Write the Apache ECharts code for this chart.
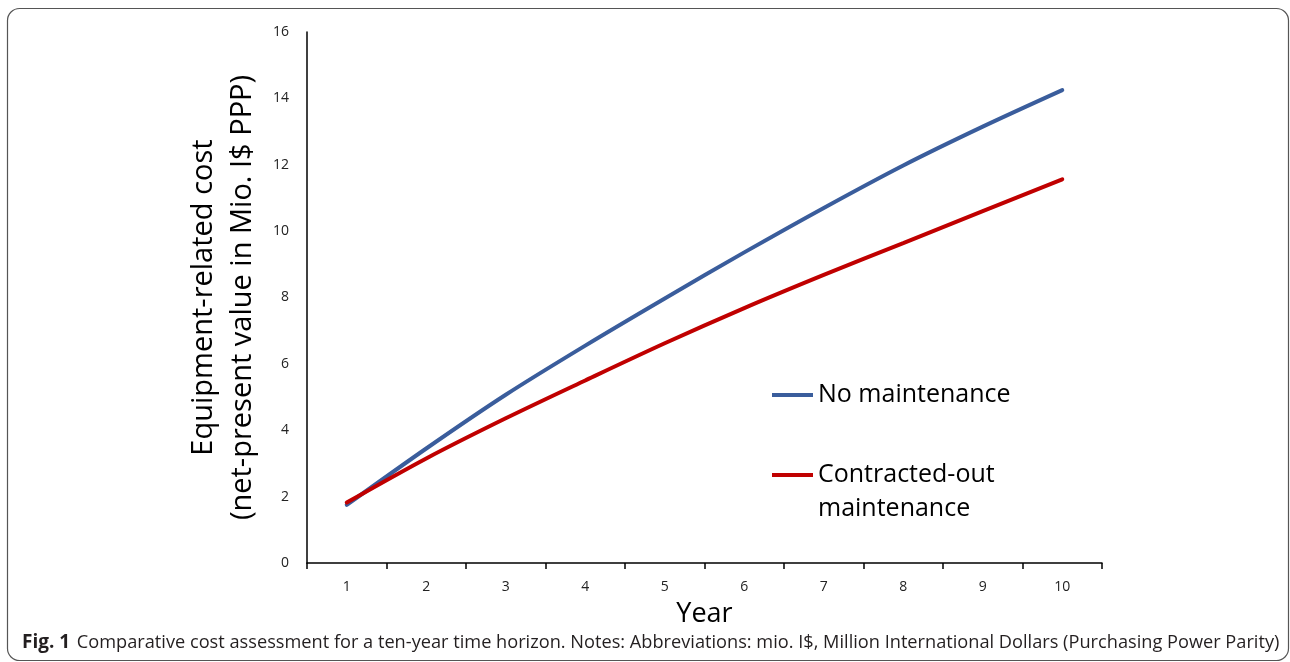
<!DOCTYPE html>
<html>
<head>
<meta charset="utf-8">
<script src="https://cdn.jsdelivr.net/npm/echarts@6/dist/echarts.min.js"></script>
<style>
  html, body { margin: 0; padding: 0; background: #fff; }
  #chart { width: 1290px; height: 662px; }
</style>
</head>
<body>
<div id="chart"></div>
<script>
// data (mio. I$ PPP)
const years = ['1', '2', '3', '4', '5', '6', '7', '8', '9', '10']
const noMaintenance = [1.75, 3.45, 5.07, 6.55, 7.97, 9.36, 10.7, 11.98, 13.15, 14.25]
const contractedOut = [1.82, 3.15, 4.36, 5.5, 6.62, 7.68, 8.68, 9.64, 10.6, 11.56]

const seriesNames = ['No maintenance', 'Contracted-out maintenance']
const yTicks = { min: 0, max: 16, interval: 2 }

const font = '"Open Sans", "Noto Sans", sans-serif'
const chart = echarts.init(document.getElementById('chart'), null, { renderer: 'canvas' })

chart.setOption({
  animation: false,
  grid: { left: 307, right: 188, top: 32, bottom: 99, containLabel: false },
  xAxis: {
    type: 'category',
    data: years,
    boundaryGap: true,
    axisLine: { lineStyle: { color: '#000', width: 1.5 } },
    axisTick: { show: true, length: 6, lineStyle: { color: '#000', width: 1.5 } },
    axisLabel: { color: '#222', fontSize: 14, fontFamily: font, margin: 17 },
    name: 'Year',
    nameLocation: 'middle',
    nameGap: 38,
    nameTextStyle: { color: '#000', fontSize: 27, fontFamily: font }
  },
  yAxis: {
    type: 'value',
    min: yTicks.min,
    max: yTicks.max,
    interval: yTicks.interval,
    splitLine: { show: false },
    axisLine: { show: true, lineStyle: { color: '#000', width: 1.5 } },
    axisTick: { show: false },
    axisLabel: { color: '#222', fontSize: 14, fontFamily: font, margin: 18 },
    name: 'Equipment-related cost\n(net-present value in Mio. I$ PPP)',
    nameLocation: 'middle',
    nameGap: 38,
    nameTextStyle: { color: '#000', fontSize: 29, lineHeight: 39, fontFamily: font }
  },
  legend: [
    {
      data: [seriesNames[0]],
      left: 767,
      top: 373,
      icon: 'rect',
      itemWidth: 41,
      itemHeight: 4,
      textStyle: { fontSize: 25, lineHeight: 34, fontFamily: font, color: '#000' }
    },
    {
      data: [seriesNames[1]],
      left: 767,
      top: 419,
      icon: 'rect',
      itemWidth: 41,
      itemHeight: 4,
      // empty first line keeps the icon level with "Contracted-out"
      formatter: () => '\nContracted-out\nmaintenance',
      textStyle: { fontSize: 25, lineHeight: 34, fontFamily: font, color: '#000' }
    }
  ],
  graphic: [
    {
      type: 'rect',
      shape: { x: 7.5, y: 8.5, width: 1281, height: 652, r: 12 },
      style: { fill: 'none', stroke: '#555', lineWidth: 1.2 },
      silent: true
    },
    {
      type: 'text',
      left: 22,
      top: 633,
      style: {
        text: '{b|Fig. 1}  {n|Comparative cost assessment for a ten-year time horizon. Notes: Abbreviations: mio. I$, Million International Dollars (Purchasing Power Parity)}',
        rich: {
          b: { fontSize: 19, fontWeight: 'bold', fontFamily: font, fill: '#231f20' },
          n: { fontSize: 18.2, fontFamily: font, fill: '#231f20' }
        }
      }
    }
  ],
  series: [
    {
      name: seriesNames[0],
      type: 'line',
      data: noMaintenance,
      smooth: 0.3,
      symbol: 'none',
      lineStyle: { color: '#3a5d9c', width: 4, cap: 'round' },
      itemStyle: { color: '#3a5d9c' }
    },
    {
      name: seriesNames[1],
      type: 'line',
      data: contractedOut,
      smooth: 0.3,
      symbol: 'none',
      lineStyle: { color: '#c00000', width: 4, cap: 'round' },
      itemStyle: { color: '#c00000' }
    }
  ]
})
</script>
</body>
</html>
